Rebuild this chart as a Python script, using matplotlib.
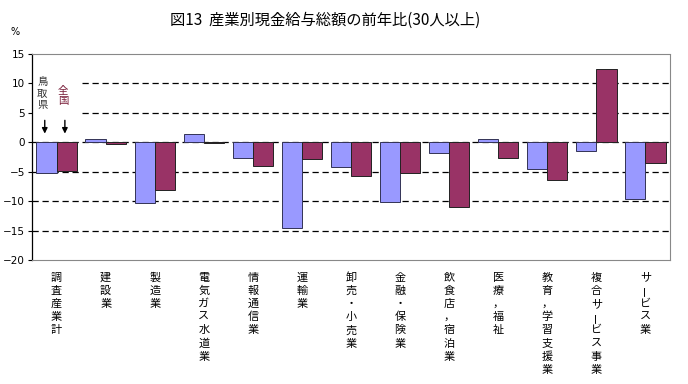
import numpy as np
import matplotlib
matplotlib.use('Agg')
import matplotlib.pyplot as plt
from matplotlib.patches import Rectangle

plt.rcParams['font.family'] = ['Noto Sans CJK JP', 'DejaVu Sans']
plt.rcParams['axes.unicode_minus'] = False

# データ
industries = ['調査産業計', '建設業', '製造業', '電気ガス水道業', '情報通信業', '運輸業',
              '卸売・小売業', '金融・保険業', '飲食店，宿泊業', '医療，福祉',
              '教育，学習支援業', '複合サービス事業', 'サービス業']
tottori = [-5.3, 0.6, -10.4, 1.4, -2.7, -14.6, -4.2, -10.2, -1.9, 0.6, -4.6, -1.5, -9.7]
zenkoku = [-4.8, -0.3, -8.1, -0.2, -4.0, -2.8, -5.8, -5.2, -11.0, -2.7, -6.4, 12.4, -3.6]
yticks = [15, 10, 5, 0, -5, -10, -15, -20]

fig = plt.figure(figsize=(6.88, 3.84), dpi=100)
ax = fig.add_axes([32/688, 1-260/384, 638/688, 206/384])

x = np.arange(len(industries))
w = 0.41

# グリッド（破線）
for v in [10, 5, 0, -5, -10, -15]:
    ax.axhline(v, color='black', lw=0.9, ls=(0, (5, 3)), zorder=1)

# 凡例代わりの白い箱
ax.add_patch(Rectangle((-0.5, 1.3), 0.99, 9.5, facecolor='white', edgecolor='none', zorder=2))

ax.bar(x - w/2, tottori, w, color='#9999ff', edgecolor='#333355', lw=0.7, zorder=3)
ax.bar(x + w/2, zenkoku, w, color='#993366', edgecolor='#222222', lw=0.7, zorder=3)

ax.set_xlim(-0.5, len(industries) - 0.5)
ax.set_ylim(-20, 15)
ax.set_yticks(yticks)
ax.set_yticklabels([str(v) if v >= 0 else '−' + str(-v) for v in yticks], fontsize=7.5,
                   family=['DejaVu Sans'])
ax.tick_params(axis='y', length=3, width=0.8, pad=2)
ax.set_xticks([])

for s in ['top', 'right', 'bottom']:
    ax.spines[s].set_color('#888888')
    ax.spines[s].set_linestyle((0, (1, 1)))
    ax.spines[s].set_linewidth(0.8)
ax.spines['left'].set_linewidth(0.9)

# 縦書きの項目名
step = 13.2 / 206
for i, name in enumerate(industries):
    for j, ch in enumerate(name):
        rot = 90 if ch == 'ー' else 0
        ax.text(i, -0.085 - j*step, ch, transform=ax.get_xaxis_transform(),
                ha='center', va='center', fontsize=8, rotation=rot, clip_on=False)

# 鳥取県・全国 の注記
for j, ch in enumerate('鳥取県'):
    ax.text(-0.29, 10.2 - j*1.95, ch, ha='center', va='center', fontsize=7.5,
            color='#333333', zorder=4)
for j, ch in enumerate('全国'):
    ax.text(0.13, 8.7 - j*1.75, ch, ha='center', va='center', fontsize=7.5,
            color='#7a1f3a', zorder=4)
for xa in [-0.24, 0.17]:
    ax.annotate('', xy=(xa, 1.0), xytext=(xa, 4.2),
                arrowprops=dict(arrowstyle='-|>', color='black', lw=1, mutation_scale=8),
                zorder=4)

fig.text(15/688, 1-32/384, '%', fontsize=7, ha='center', va='center', family=['DejaVu Sans'])
fig.text(325/688, 1-20/384, '図13  産業別現金給与総額の前年比(30人以上)', fontsize=11,
         ha='center', va='center')

fig.savefig('out.png', dpi=100)
